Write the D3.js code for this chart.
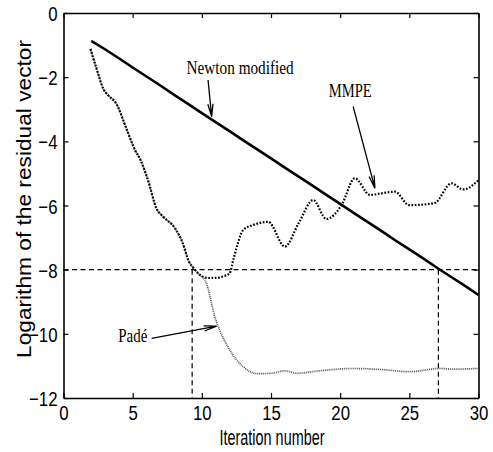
<!DOCTYPE html>
<html>
<head>
<meta charset="utf-8">
<script src="https://cdn.jsdelivr.net/npm/d3@7"></script>
<style>
  html, body { margin: 0; padding: 0; background: #fff; }
  svg { display: block; }
</style>
</head>
<body>
<svg id="chart" width="493" height="452"></svg>
<script>
// ---------- data ----------
const xTicks = [0, 5, 10, 15, 20, 25, 30];
const yTicks = [0, -2, -4, -6, -8, -10, -12];

const newtonX = [2, 3, 4, 5, 6, 7, 8, 9, 10, 11, 12, 13, 14, 15, 16, 17, 18, 19, 20, 21, 22, 23, 24, 25, 26, 27, 28, 29, 30];
const newtonY = [-0.87, -1.13, -1.41, -1.70, -1.98, -2.26, -2.55, -2.83, -3.12, -3.40, -3.68, -3.97, -4.25, -4.53, -4.82, -5.10, -5.38, -5.67, -5.95, -6.24, -6.52, -6.80, -7.09, -7.37, -7.65, -7.94, -8.22, -8.50, -8.79];

const mmpeX = [1.95, 2.4, 2.9, 3.2, 3.85, 4.5, 5.17, 5.53, 6.1, 6.73, 7.21, 8.06, 8.6, 9.02, 9.5, 10.0, 10.5, 11.1, 11.6, 12.0, 12.3, 13.0, 13.7, 14.8, 16.0, 17.0, 18.05, 19.0, 20.1, 21.06, 22.15, 23.0, 23.95, 25.0, 26.8, 28.05, 28.9, 30.0];
const mmpeY = [-1.12, -1.75, -2.38, -2.55, -2.85, -3.55, -4.27, -4.55, -5.2, -6.1, -6.35, -6.71, -7.15, -7.70, -8.00, -8.20, -8.26, -8.25, -8.20, -8.12, -7.65, -6.76, -6.61, -6.51, -7.28, -6.55, -5.83, -6.42, -5.99, -5.15, -5.67, -5.62, -5.57, -5.99, -5.93, -5.31, -5.50, -5.21];

const padeX = [1.95, 2.4, 2.9, 3.2, 3.85, 4.5, 5.17, 5.53, 6.1, 6.73, 7.21, 8.06, 8.6, 9.02, 9.5, 9.98, 10.22, 11.0, 11.9, 12.5, 13.0, 13.5, 14.0, 15.04, 16.0, 16.85, 18.53, 20.94, 22.87, 25.0, 27.2, 28.2, 30.0];
const padeY = [-1.12, -1.75, -2.38, -2.55, -2.85, -3.55, -4.27, -4.55, -5.2, -6.1, -6.35, -6.71, -7.15, -7.70, -8.00, -8.22, -8.32, -9.55, -10.42, -10.8, -11.03, -11.18, -11.24, -11.23, -11.15, -11.23, -11.15, -11.08, -11.11, -11.18, -11.08, -11.10, -11.08];

const thresholdLevel = -8;
const crossingX = [9.3, 27.1];

const labels = ["Newton modified", "MMPE", "Padé"];
const xTitle = "Iteration number";
const yTitle = "Logarithm of the residual vector";

// ---------- layout ----------
const svg = d3.select("#chart");
const L = 63.5, R = 478.5, T = 13, B = 398;
const x = d3.scaleLinear().domain([0, 30]).range([L, R]);
const y = d3.scaleLinear().domain([-12, 0]).range([B, T]);

const sansFont = "'Liberation Sans', Arial, Helvetica, sans-serif";
const serifFont = "'Liberation Serif', 'Times New Roman', serif";

// dashed threshold lines
svg.append("line")
  .attr("x1", x(0)).attr("x2", x(30))
  .attr("y1", y(thresholdLevel)).attr("y2", y(thresholdLevel))
  .attr("stroke", "#000").attr("stroke-width", 1.2).attr("stroke-dasharray", "5,3.5");
crossingX.forEach(cx => {
  svg.append("line")
    .attr("x1", x(cx)).attr("x2", x(cx))
    .attr("y1", y(thresholdLevel)).attr("y2", y(-12))
    .attr("stroke", "#000").attr("stroke-width", 1.2).attr("stroke-dasharray", "5,3.5");
});

const line = d3.line().x(d => x(d[0])).y(d => y(d[1]));
const lineSmooth = d3.line().x(d => x(d[0])).y(d => y(d[1])).curve(d3.curveMonotoneX);

// Padé (thin grey dotted)
svg.append("path")
  .datum(padeX.map((v, i) => [v, padeY[i]]))
  .attr("d", lineSmooth)
  .attr("fill", "none").attr("stroke", "#555").attr("stroke-width", 1.7)
  .attr("stroke-dasharray", "1,0.9");

// MMPE (black dotted)
svg.append("path")
  .datum(mmpeX.map((v, i) => [v, mmpeY[i]]))
  .attr("d", lineSmooth)
  .attr("fill", "none").attr("stroke", "#000").attr("stroke-width", 2.2)
  .attr("stroke-dasharray", "1.7,1.6");

// Newton modified (solid)
svg.append("path")
  .datum(newtonX.map((v, i) => [v, newtonY[i]]))
  .attr("d", line)
  .attr("fill", "none").attr("stroke", "#000").attr("stroke-width", 2.6);

// ---------- axes ----------
const fmt = d => d3.format("d")(d);
const axisDefs = [
  { ax: d3.axisBottom(x).tickValues(xTicks).tickFormat(fmt), tr: `translate(0,${B})`, kind: "b" },
  { ax: d3.axisTop(x).tickValues(xTicks).tickFormat(""), tr: `translate(0,${T})`, kind: "t" },
  { ax: d3.axisLeft(y).tickValues(yTicks).tickFormat(fmt), tr: `translate(${L},0)`, kind: "l" },
  { ax: d3.axisRight(y).tickValues(yTicks).tickFormat(""), tr: `translate(${R},0)`, kind: "r" }
];
axisDefs.forEach(a => {
  const g = svg.append("g").attr("transform", a.tr)
    .call(a.ax.tickSizeInner(-5).tickSizeOuter(0).tickPadding(8));
  g.select(".domain").attr("stroke", "#000").attr("stroke-width", 1.6);
  g.selectAll(".tick line").attr("stroke", "#000").attr("stroke-width", 1.2);
  const t = g.selectAll(".tick text")
    .attr("font-family", sansFont).attr("font-size", 21).attr("fill", "#000")
    .attr("transform", "scale(0.8,1)");
  if (a.kind === "b") t.attr("y", 3).attr("dy", "0.9em");
  if (a.kind === "l") t.attr("x", -7.5).attr("dy", "0.36em");
});

// ---------- titles ----------
svg.append("text")
  .attr("x", (L + R) / 2 + 1).attr("y", 445)
  .attr("text-anchor", "middle")
  .attr("font-family", sansFont).attr("font-size", 22)
  .attr("textLength", 105).attr("lengthAdjust", "spacingAndGlyphs")
  .text(xTitle);
svg.append("text")
  .attr("transform", `translate(31,199) rotate(-90)`)
  .attr("text-anchor", "middle")
  .attr("font-family", sansFont).attr("font-size", 21)
  .attr("textLength", 318).attr("lengthAdjust", "spacingAndGlyphs")
  .text(yTitle);

// ---------- annotations ----------
function annot(txt, ax, ay, len) {
  svg.append("text")
    .attr("x", x(ax)).attr("y", y(ay))
    .attr("font-family", serifFont).attr("font-size", 19)
    .attr("textLength", len).attr("lengthAdjust", "spacingAndGlyphs")
    .text(txt);
}
annot(labels[0], 8.9, -1.9, 107);
annot(labels[1], 19.17, -2.61, 43);
annot(labels[2], 3.96, -10.25, 29);

function arrow(x0, y0, x1, y1) {
  const p0 = [x(x0), y(y0)], p1 = [x(x1), y(y1)];
  const ang = Math.atan2(p1[1] - p0[1], p1[0] - p0[0]);
  const len = 13, spread = 0.2;
  const a1 = [p1[0] - len * Math.cos(ang - spread), p1[1] - len * Math.sin(ang - spread)];
  const a2 = [p1[0] - len * Math.cos(ang + spread), p1[1] - len * Math.sin(ang + spread)];
  svg.append("path")
    .attr("d", `M${p0[0]},${p0[1]}L${p1[0]},${p1[1]}M${a1[0]},${a1[1]}L${p1[0]},${p1[1]}L${a2[0]},${a2[1]}`)
    .attr("fill", "none").attr("stroke", "#000").attr("stroke-width", 1.3);
}
arrow(10.45, -2.09, 10.71, -3.23);
arrow(20.94, -2.92, 22.51, -5.46);
arrow(6.37, -10.14, 11.07, -9.76);
</script>
</body>
</html>
